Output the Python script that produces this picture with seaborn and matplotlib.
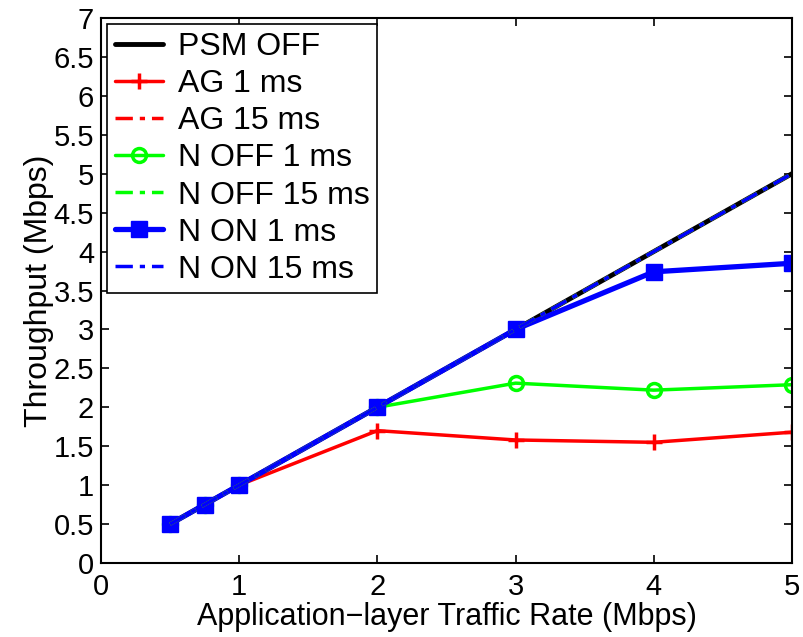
import matplotlib
matplotlib.use("Agg")
import matplotlib.pyplot as plt
import seaborn as sns
import pandas as pd

x_rate = [0.5, 0.75, 1, 2, 3, 4, 5]
psm_off = [0.5, 0.75, 1, 2, 3, 4, 5]
ag_1 = [0.5, 0.75, 1, 1.70, 1.58, 1.55, 1.68]
ag_15 = [0.5, 0.75, 1, 2, 3, 4, 5]
noff_1 = [0.5, 0.75, 1, 2, 2.31, 2.22, 2.29]
noff_15 = [0.5, 0.75, 1, 2, 3, 4, 5]
non_1 = [0.5, 0.75, 1, 2, 3, 3.74, 3.85]
non_15 = [0.5, 0.75, 1, 2, 3, 4, 5]

GREEN = "#00ff00"
DASHDOT = (0, (5, 2, 1.5, 2))
series = [
    ("PSM OFF", psm_off, dict(color="black", lw=3.5, ls="-")),
    ("AG 1 ms", ag_1, dict(color="red", lw=2.5, ls="-", marker="+", ms=11,
                           mew=2.5, mec="red")),
    ("AG 15 ms", ag_15, dict(color="red", lw=2.5, ls=DASHDOT)),
    ("N OFF 1 ms", noff_1, dict(color=GREEN, lw=2.5, ls="-", marker="o", ms=10,
                                 mfc="none", mew=2.5, mec=GREEN)),
    ("N OFF 15 ms", noff_15, dict(color=GREEN, lw=2.5, ls=DASHDOT)),
    ("N ON 1 ms", non_1, dict(color="blue", lw=3.8, ls="-", marker="s", ms=12,
                              mfc="blue", mec="blue", mew=1)),
    ("N ON 15 ms", non_15, dict(color="blue", lw=2.5, ls=DASHDOT)),
]

sns.set_style("ticks")
plt.rcParams["font.family"] = ["Liberation Sans", "DejaVu Sans"]
plt.rcParams["text.color"] = "black"
plt.rcParams["axes.labelcolor"] = "black"
plt.rcParams["xtick.color"] = "black"
plt.rcParams["ytick.color"] = "black"

fig = plt.figure(figsize=(8.04, 6.37), dpi=100)
ax = fig.add_axes([0.1256, 0.1162, 0.8594, 0.8555])

for i in [0, 1, 3, 5, 2, 4, 6]:
    name, vals, st = series[i]
    df = pd.DataFrame({"x": x_rate, "y": vals})
    kw = dict(st)
    color = kw.pop("color")
    lw = kw.pop("lw")
    ls = kw.pop("ls")
    sns.lineplot(data=df, x="x", y="y", ax=ax, color=color, linewidth=lw,
                 linestyle=ls, label=name, **kw)

h, l = ax.get_legend_handles_labels()
hm = dict(zip(l, h))
names = [s[0] for s in series]
leg = ax.legend([hm[n] for n in names], names, loc="upper left", fontsize=23,
                frameon=True, fancybox=False, edgecolor="black", framealpha=1,
                handlelength=1.5, borderpad=0.25, labelspacing=0.22,
                handletextpad=0.45, borderaxespad=0.2)
leg.get_frame().set_linewidth(1.2)

ax.set_xlim(0, 5)
ax.set_ylim(0, 7)
ax.set_xticks([0, 1, 2, 3, 4, 5])
ax.set_yticks([0, 0.5, 1, 1.5, 2, 2.5, 3, 3.5, 4, 4.5, 5, 5.5, 6, 6.5, 7])
ax.set_yticklabels(["0", "0.5", "1", "1.5", "2", "2.5", "3", "3.5", "4", "4.5",
                    "5", "5.5", "6", "6.5", "7"])
ax.tick_params(direction="in", top=True, right=True, labelsize=21, length=6,
               width=1.2, pad=5)
ax.tick_params(axis="x", pad=7)
for sp in ax.spines.values():
    sp.set_visible(True)
    sp.set_linewidth(1.5)
    sp.set_color("black")
ax.set_xlabel("Application\u2212layer Traffic Rate (Mbps)", fontsize=22, labelpad=1)
ax.set_ylabel("Throughput (Mbps)", fontsize=23, labelpad=0)

fig.savefig("out.png", dpi=100)
